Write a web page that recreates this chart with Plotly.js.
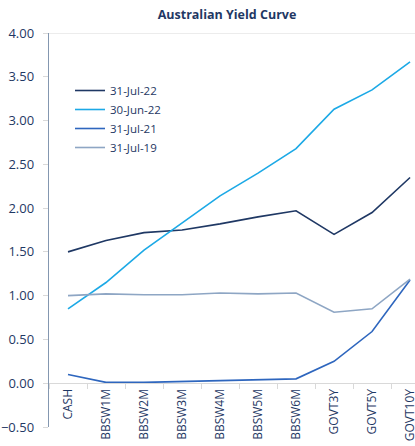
<!DOCTYPE html>
<html>
<head>
<meta charset="utf-8">
<script src="https://cdn.plot.ly/plotly-3.0.1.min.js"></script>
<style>html,body{margin:0;padding:0;background:#fff;}#chart{width:415px;height:446px;}</style>
</head>
<body>
<div id="chart"></div>
<script>
const categories = ["CASH","BBSW1M","BBSW2M","BBSW3M","BBSW4M","BBSW5M","BBSW6M","GOVT3Y","GOVT5Y","GOVT10Y"];
const seriesNames = ["31-Jul-22","30-Jun-22","31-Jul-21","31-Jul-19"];
const jul22 = [1.50, 1.63, 1.72, 1.75, 1.82, 1.90, 1.97, 1.70, 1.95, 2.35];
const jun22 = [0.85, 1.15, 1.52, 1.83, 2.14, 2.40, 2.68, 3.13, 3.35, 3.67];
const jul21 = [0.10, 0.01, 0.01, 0.02, 0.03, 0.04, 0.05, 0.25, 0.59, 1.18];
const jul19 = [1.00, 1.02, 1.01, 1.01, 1.03, 1.02, 1.03, 0.81, 0.85, 1.19];
const yTicks = [-0.5, 0, 0.5, 1, 1.5, 2, 2.5, 3, 3.5, 4];

const colors = ["#1F3864", "#1CA9E6", "#2E66BE", "#8EA6C4"];
const values = [jul22, jun22, jul21, jul19];

const traces = values.map((v, i) => ({
  x: categories, y: v, name: seriesNames[i], type: "scatter", mode: "lines",
  line: {color: colors[i], width: 1.6}
}));

const font = "Open Sans, Noto Sans, sans-serif";
const layout = {
  width: 415, height: 446,
  margin: {l: 49, r: 0, t: 33, b: 19, autoexpand: false},
  paper_bgcolor: "#fff", plot_bgcolor: "#fff",
  title: {text: "<b>Australian Yield Curve</b>", x: 227/415, xanchor: "center", y: 0.968, yanchor: "middle",
          font: {family: font, size: 12.5, color: "#1F3864"}},
  xaxis: {
    type: "category", range: [-0.5, 9.13], anchor: "free", position: 0.5/4.5,
    showline: true, linecolor: "#D9D9D9", linewidth: 1,
    ticks: "outside", ticklen: 5, tickcolor: "#D9D9D9", tickson: "boundaries",
    tickangle: -90, showgrid: false, zeroline: false,
    tickfont: {family: font, size: 12, color: "#1F3864"}
  },
  yaxis: {
    range: [-0.5, 4], tickvals: yTicks, tickformat: ".2f",
    showline: true, linecolor: "#8497B0", linewidth: 1.3,
    ticks: "outside", ticklen: 5, tickcolor: "#D9D9D9", ticklabelstandoff: 6,
    showgrid: false, zeroline: false,
    tickfont: {family: font, size: 13, color: "#1F3864"}
  },
  shapes: [{type: "line", xref: "paper", yref: "y", x0: 0, x1: 1, y0: 4, y1: 4,
            line: {color: "#D9D9D9", width: 1}}],
  showlegend: true,
  legend: {x: 21/366, xanchor: "left", y: 1 - (76-33)/394, yanchor: "top",
           bgcolor: "rgba(0,0,0,0)", tracegroupgap: 0, itemwidth: 30,
           font: {family: font, size: 11.5, color: "#1F3864"}}
};

Plotly.newPlot("chart", traces, layout, {displayModeBar: false, staticPlot: true});
</script>
</body>
</html>
